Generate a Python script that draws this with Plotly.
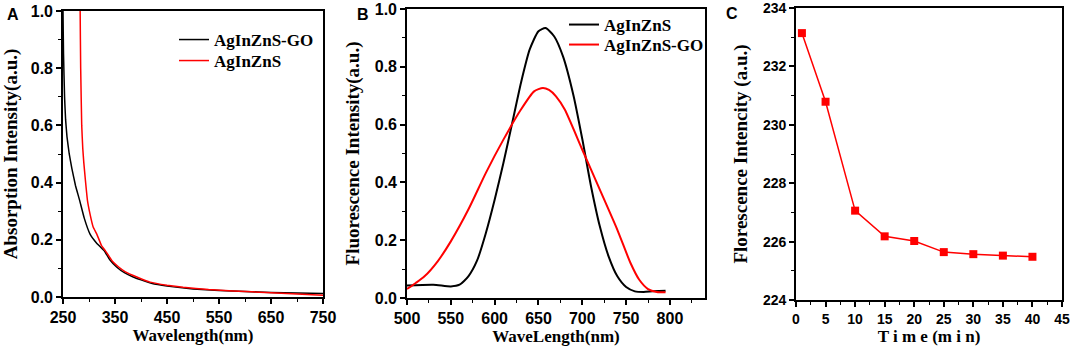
import plotly.graph_objects as go

# ---- Panel A: absorption ----
abs_go_wl = [249.5, 250, 251, 253, 255, 257.7, 262, 267, 274, 282, 291, 302, 314, 322, 330, 340, 353, 368,
             385, 400, 420, 450, 500, 550, 600, 650, 750]
abs_go_val = [1.2, 1.0, 0.85, 0.70, 0.62, 0.56, 0.50, 0.45, 0.39, 0.338, 0.275, 0.22, 0.19, 0.175, 0.16,
              0.13, 0.105, 0.085, 0.07, 0.06, 0.048, 0.038, 0.028, 0.023, 0.019, 0.016, 0.012]
abs_wl = [282.5, 283, 284, 286, 288, 290, 293, 297, 302, 308, 315, 324, 331, 345, 357, 370, 392, 417.5,
          450, 481, 530, 577, 650, 750]
abs_val = [1.3, 1.0, 0.8, 0.6, 0.52, 0.47, 0.41, 0.338, 0.29, 0.245, 0.22, 0.18, 0.163, 0.125, 0.105, 0.088,
           0.07, 0.052, 0.041, 0.034, 0.026, 0.021, 0.015, 0.006]

# ---- Panel B: fluorescence ----
fl_wl = [500, 530, 550, 560, 570, 580, 590, 600, 610, 620, 630, 640, 650, 658, 668, 678, 690, 700, 710, 720,
         730, 740, 750, 760, 770, 780, 795]
fl_val = [0.043, 0.046, 0.040, 0.046, 0.075, 0.13, 0.225, 0.34, 0.467, 0.605, 0.744, 0.86, 0.923, 0.934,
          0.905, 0.836, 0.70, 0.55, 0.386, 0.248, 0.144, 0.075, 0.038, 0.023, 0.021, 0.023, 0.025]
fl_go_wl = [500, 510, 520, 535, 550, 570, 590, 610, 630, 645, 655, 662, 670, 680, 700, 720, 740, 755, 765,
            775, 785, 795]
fl_go_val = [0.031, 0.052, 0.075, 0.127, 0.196, 0.306, 0.433, 0.548, 0.652, 0.715, 0.727, 0.72, 0.698, 0.652,
             0.513, 0.375, 0.236, 0.121, 0.063, 0.031, 0.021, 0.020]

# ---- Panel C: time course ----
time_min = [1, 5, 10, 15, 20, 25, 30, 35, 40]
intensity = [233.14, 230.79, 227.06, 226.18, 226.02, 225.64, 225.57, 225.52, 225.48]

W, H = 1074, 347
TICKFONT = dict(family="Liberation Sans", size=16, color="black", weight="bold")
TITLEFONT_X = dict(family="Liberation Serif", size=17, color="black", weight="bold")
TITLEFONT_Y = dict(family="Liberation Serif", size=19, color="black", weight="bold")
LEGFONT = dict(family="Liberation Serif", size=17, color="black", weight="bold")


def px_x(p):
    return p / W


def px_y(p):
    return 1 - p / H


fig = go.Figure()
fig.add_trace(go.Scatter(x=abs_go_wl, y=abs_go_val, mode="lines", name="AgInZnS-GO",
                         line=dict(color="black", width=1.5, shape="spline", smoothing=0.3),
                         xaxis="x", yaxis="y", legend="legend"))
fig.add_trace(go.Scatter(x=abs_wl, y=abs_val, mode="lines", name="AgInZnS",
                         line=dict(color="red", width=1.5, shape="spline", smoothing=0.3),
                         xaxis="x", yaxis="y", legend="legend2"))
fig.add_trace(go.Scatter(x=fl_wl, y=fl_val, mode="lines", name="AgInZnS",
                         line=dict(color="black", width=2, shape="spline", smoothing=0.6),
                         xaxis="x2", yaxis="y2", legend="legend3"))
fig.add_trace(go.Scatter(x=fl_go_wl, y=fl_go_val, mode="lines", name="AgInZnS-GO",
                         line=dict(color="red", width=2, shape="spline", smoothing=0.6),
                         xaxis="x2", yaxis="y2", legend="legend4"))
fig.add_trace(go.Scatter(x=time_min, y=intensity, mode="lines+markers", showlegend=False,
                         line=dict(color="red", width=1.5),
                         marker=dict(symbol="square", size=8, color="red"),
                         xaxis="x3", yaxis="y3"))


def axis(domain, anchor, rng, dtick, tick0, minor_dtick, title, titlefont, tickfont, standoff, fmt=None):
    d = dict(domain=domain, anchor=anchor, range=rng, dtick=dtick, tick0=tick0, automargin=False,
             showgrid=False, zeroline=False, showline=True, linecolor="black", linewidth=1.6,
             mirror=True, ticks="outside", ticklen=5, tickwidth=1.5, tickcolor="black",
             tickfont=tickfont, ticklabeloverflow="allow",
             minor=dict(ticks="outside", ticklen=3, tickwidth=1.2, tickcolor="black",
                        dtick=minor_dtick, showgrid=False),
             title=dict(text=title, font=titlefont, standoff=standoff))
    if fmt:
        d["tickformat"] = fmt
    return d


TICKFONT_C = dict(TICKFONT, size=14)


def leg(xp, yp):
    return dict(x=px_x(xp), y=px_y(yp), xanchor="left", yanchor="middle",
                bgcolor="rgba(0,0,0,0)", borderwidth=0, font=LEGFONT)


fig.update_layout(
    template="none",
    width=W, height=H,
    margin=dict(l=0, r=0, t=0, b=0, pad=0),
    paper_bgcolor="white", plot_bgcolor="white",
    showlegend=True,
    xaxis=axis([px_x(63), px_x(323)], "y", [250, 750], 100, 250, 50,
               "Wavelength(nm)", TITLEFONT_X, TICKFONT, 4),
    yaxis=axis([px_y(297), px_y(11)], "x", [0, 1], 0.2, 0, 0.1,
               "Absorption Intensity(a.u.)", TITLEFONT_Y, TICKFONT, 12, ".1f"),
    xaxis2=axis([px_x(407), px_x(705)], "y2", [500, 840], 50, 500, 25,
                "WaveLength(nm)", TITLEFONT_X, TICKFONT, 4),
    yaxis2=axis([px_y(298), px_y(9)], "x2", [0, 1], 0.2, 0, 0.1,
                "Fluorescence Intensity(a.u.)", TITLEFONT_Y, TICKFONT, 10, ".1f"),
    xaxis3=axis([px_x(796), px_x(1062)], "y3", [0, 45], 5, 0, 2.5,
                "T i m e (m i n)", TITLEFONT_X, TICKFONT_C, 4),
    yaxis3=axis([px_y(300), px_y(8)], "x3", [224, 234], 2, 224, 1,
                "Florescence Intencity (a.u.)", TITLEFONT_Y, TICKFONT_C, 10),
    legend=leg(174, 40),
    legend2=leg(174, 61),
    legend3=leg(564, 25),
    legend4=leg(564, 45),
    annotations=[
        dict(text="A", x=px_x(5), y=px_y(4), xref="paper", yref="paper", xanchor="left", yanchor="top",
             showarrow=False, font=dict(family="Liberation Sans", size=16, color="black", weight="bold")),
        dict(text="B", x=px_x(355), y=px_y(4), xref="paper", yref="paper", xanchor="left", yanchor="top",
             showarrow=False, font=dict(family="Liberation Sans", size=16, color="black", weight="bold")),
        dict(text="C", x=px_x(724), y=px_y(3), xref="paper", yref="paper", xanchor="left", yanchor="top",
             showarrow=False, font=dict(family="Liberation Sans", size=16, color="black", weight="bold")),
    ],
)

fig.write_html("out.html", config={"displayModeBar": False},
               post_script="document.body.style.margin='0';document.body.style.overflow='hidden';")
